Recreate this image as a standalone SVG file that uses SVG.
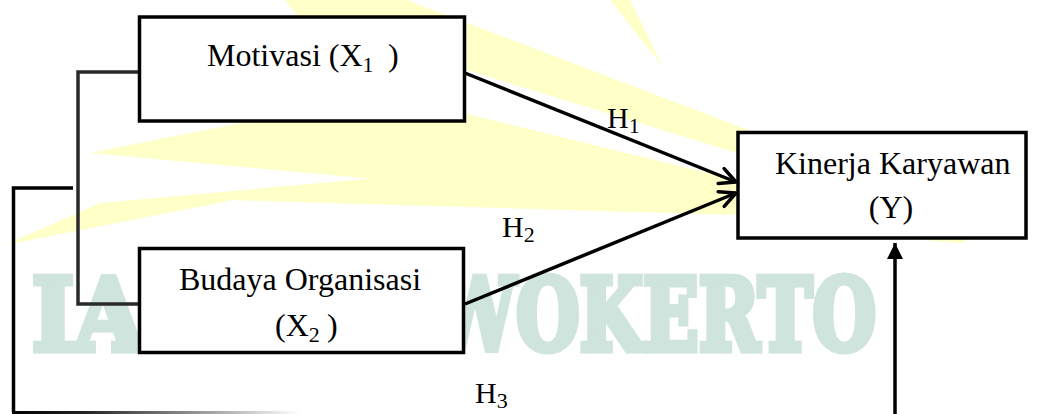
<svg xmlns="http://www.w3.org/2000/svg" width="1038" height="414" viewBox="0 0 1038 414">
  <style>
    .box { fill: #ffffff; stroke: #000000; stroke-width: 3.5; }
    .lbl { font-family: "Liberation Serif", "Times New Roman", serif; font-size: 32px; fill: #000000; }
    .hyp { font-family: "Liberation Serif", "Times New Roman", serif; font-size: 30px; fill: #000000; }
    .sub { font-size: 22px; }
    .wm { font-family: "DejaVu Serif", "Liberation Serif", serif; font-weight: 900; font-size: 100px; fill: #cfe4dc; stroke: #cfe4dc; stroke-width: 7; stroke-linejoin: miter; }
    .ray { fill: #ffffc8; }
    .edge { fill: none; stroke: #000000; stroke-width: 3.5; }
    .link { fill: none; stroke: #2a2a2a; stroke-width: 3.5; }
  </style>
  <defs>
    <marker id="open" viewBox="0 0 20 20" refX="18" refY="10" markerWidth="20" markerHeight="20" markerUnits="userSpaceOnUse" orient="auto">
      <path d="M2,2 L18,10 L2,18" fill="none" stroke="#000000" stroke-width="3.5" stroke-linecap="round" stroke-linejoin="round"/>
    </marker>
    <marker id="solid" viewBox="0 0 16 16" refX="16" refY="8" markerWidth="16" markerHeight="16" markerUnits="userSpaceOnUse" orient="auto">
      <path d="M0,0 L16,8 L0,16 Z" fill="#000000"/>
    </marker>
    <linearGradient id="fade" gradientUnits="userSpaceOnUse" x1="13" y1="0" x2="300" y2="0">
      <stop offset="0" stop-color="#000000"/>
      <stop offset="0.25" stop-color="#222222"/>
      <stop offset="1" stop-color="#ffffff"/>
    </linearGradient>
  </defs>

  <rect width="1038" height="414" fill="#ffffff"/>

  <g id="watermark">
    <polygon class="ray" points="285,0 407,0 790,146 760,160 300,19"/>
    <polygon class="ray" points="90,153 386,94 737,180 737,212"/>
    <polygon class="ray" points="5,245 100,203 520,165 737,195 737,215 233,200"/>
    <polygon class="ray" points="610,0 630,0 663,67"/>
    <polygon class="ray" points="900,238 975,238 960,243"/>
    <text class="wm" x="32" y="350" textLength="112" lengthAdjust="spacingAndGlyphs">IA</text>
    <text class="wm" x="434" y="350" textLength="442" lengthAdjust="spacingAndGlyphs">WOKERTO</text>
  </g>

  <g id="connectors">
    <polyline class="link" points="139.5,72 78,72 78,304 139.5,304"/>
    <line class="edge" x1="465" y1="73" x2="736" y2="182" marker-end="url(#open)"/>
    <line class="edge" x1="465" y1="304" x2="736" y2="193" marker-end="url(#open)"/>
    <polyline class="edge" points="73,188 13.5,188 13.5,412"/>
    <line x1="12" y1="412.5" x2="300" y2="412.5" stroke="url(#fade)" stroke-width="3"/>
    <line class="edge" x1="895" y1="414" x2="895" y2="243" marker-end="url(#solid)"/>
    <text class="hyp" x="607" y="128">H<tspan class="sub" dy="5">1</tspan></text>
    <text class="hyp" x="502" y="237">H<tspan class="sub" dy="5">2</tspan></text>
    <text class="hyp" x="475" y="403">H<tspan class="sub" dy="5">3</tspan></text>
  </g>

  <g id="motivasi">
    <rect class="box" x="139.5" y="17" width="325" height="104"/>
    <text class="lbl" x="207" y="66">Motivasi (X<tspan class="sub" dy="6">1</tspan><tspan dy="-6" x="388">)</tspan></text>
  </g>

  <g id="budaya">
    <rect class="box" x="139.5" y="248.5" width="324" height="104"/>
    <text class="lbl" x="179" y="290">Budaya Organisasi</text>
    <text class="lbl" x="275" y="336">(X<tspan class="sub" dy="6">2</tspan><tspan dy="-6" x="327">)</tspan></text>
  </g>

  <g id="kinerja">
    <rect class="box" x="738" y="132.5" width="288" height="105.5"/>
    <text class="lbl" x="775" y="174">Kinerja Karyawan</text>
    <text class="lbl" x="891" y="218" text-anchor="middle">(Y)</text>
  </g>
</svg>
